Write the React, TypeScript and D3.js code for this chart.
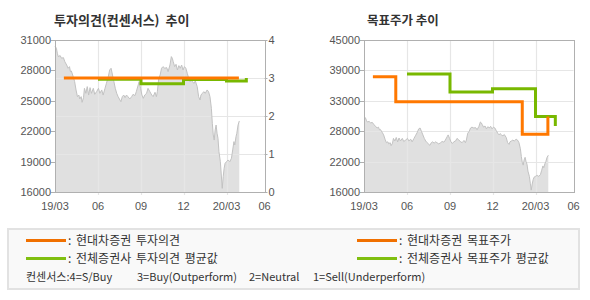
import React from 'react';
import * as d3 from 'd3';

// ---------- data ----------
const price: [string, number][] = [
  ['2019-03-01', 30400], ['2019-03-04', 30180], ['2019-03-06', 29690], ['2019-03-08', 29360],
  ['2019-03-12', 29460], ['2019-03-15', 29200], ['2019-03-19', 29260], ['2019-03-22', 28860],
  ['2019-03-26', 28530], ['2019-03-29', 28210], ['2019-04-01', 28370], ['2019-04-03', 27880],
  ['2019-04-05', 27940], ['2019-04-09', 27380], ['2019-04-12', 26890], ['2019-04-15', 26070],
  ['2019-04-18', 25410], ['2019-04-21', 25570], ['2019-04-23', 25180], ['2019-04-26', 25410],
  ['2019-04-28', 24850], ['2019-05-01', 25310], ['2019-05-03', 26230], ['2019-05-06', 25740],
  ['2019-05-09', 26400], ['2019-05-12', 25570], ['2019-05-15', 26300], ['2019-05-18', 25740],
  ['2019-05-22', 26230], ['2019-05-25', 25640], ['2019-05-29', 25900], ['2019-06-02', 26230],
  ['2019-06-05', 25740], ['2019-06-09', 26070], ['2019-06-12', 25570], ['2019-06-16', 26230],
  ['2019-06-19', 26720], ['2019-06-23', 27380], ['2019-06-26', 28040], ['2019-06-29', 28210],
  ['2019-07-02', 27550], ['2019-07-05', 26890], ['2019-07-08', 26230], ['2019-07-11', 25740],
  ['2019-07-14', 25410], ['2019-07-18', 25080], ['2019-07-20', 24910], ['2019-07-23', 25410],
  ['2019-07-26', 25570], ['2019-07-29', 25310], ['2019-08-01', 25570], ['2019-08-04', 25410],
  ['2019-08-08', 25180], ['2019-08-12', 25410], ['2019-08-15', 25640], ['2019-08-19', 25510],
  ['2019-08-22', 25900], ['2019-08-26', 26560], ['2019-08-28', 26890], ['2019-08-31', 26230],
  ['2019-09-03', 25570], ['2019-09-06', 25250], ['2019-09-09', 25570], ['2019-09-13', 25740],
  ['2019-09-16', 26230], ['2019-09-20', 25900], ['2019-09-24', 25570], ['2019-09-27', 25410],
  ['2019-10-01', 25840], ['2019-10-04', 25410], ['2019-10-06', 25900], ['2019-10-09', 27220],
  ['2019-10-12', 27550], ['2019-10-15', 28210], ['2019-10-18', 28370], ['2019-10-22', 28210],
  ['2019-10-26', 28280], ['2019-10-29', 27880], ['2019-11-02', 28530], ['2019-11-05', 29360],
  ['2019-11-07', 29200], ['2019-11-09', 28860], ['2019-11-12', 28370], ['2019-11-15', 28600],
  ['2019-11-18', 28040], ['2019-11-21', 28470], ['2019-11-24', 28210], ['2019-11-27', 28530],
  ['2019-11-30', 28040], ['2019-12-03', 28370], ['2019-12-06', 28210], ['2019-12-09', 27710],
  ['2019-12-12', 27220], ['2019-12-15', 26890], ['2019-12-17', 27150], ['2019-12-20', 26890],
  ['2019-12-23', 26720], ['2019-12-26', 26960], ['2019-12-30', 26400], ['2020-01-02', 25410],
  ['2020-01-05', 25080], ['2020-01-07', 25570], ['2020-01-10', 25740], ['2020-01-13', 25900],
  ['2020-01-16', 25740], ['2020-01-20', 26070], ['2020-01-23', 25900], ['2020-01-26', 25410],
  ['2020-01-29', 24260], ['2020-01-31', 22780], ['2020-02-02', 21630], ['2020-02-04', 21130],
  ['2020-02-06', 22120], ['2020-02-08', 22610], ['2020-02-10', 21790], ['2020-02-12', 21300],
  ['2020-02-14', 19980], ['2020-02-17', 18990], ['2020-02-19', 17680], ['2020-02-21', 16360],
  ['2020-02-23', 17510], ['2020-02-25', 18340], ['2020-02-27', 18830], ['2020-03-01', 18990],
  ['2020-03-05', 19160], ['2020-03-09', 18990], ['2020-03-13', 19330], ['2020-03-16', 20150],
  ['2020-03-19', 20970], ['2020-03-21', 20640], ['2020-03-24', 21460], ['2020-03-26', 21790],
  ['2020-03-29', 22610], ['2020-04-01', 23010],
];

const opinionOwnDates = ['2019-03-20', '2020-03-31'];
const opinionOwnValues = [3, 3];
const opinionAvgDates = ['2019-06-01', '2019-09-01', '2019-12-01', '2020-03-01', '2020-04-18'];
const opinionAvgValues = [2.97, 2.85, 2.96, 2.92, 3.0];

const targetOwnDates = ['2019-03-20', '2019-05-08', '2020-02-02', '2020-03-31'];
const targetOwnValues = [38000, 33200, 27000, 30400];
const targetAvgDates = ['2019-06-01', '2019-09-01', '2019-12-01', '2020-03-01', '2020-04-18'];
const targetAvgValues = [38500, 35100, 35700, 30400, 28600];

const xTickDates = ['2019-03-01', '2019-06-01', '2019-09-01', '2019-12-01', '2020-03-01', '2020-06-01'];
const xTickLabels = ['19/03', '06', '09', '12', '20/03', '06'];
const priceTicks = [16000, 19000, 22000, 25000, 28000, 31000];
const opinionTicks = [0, 1, 2, 3, 4];
const targetTickLabels = ['16000', '22000', '28000', '33000', '39000', '45000'];

const legendItems = [
  { label: ': 현대차증권 투자의견', color: '#f07000' },
  { label: ': 전체증권사 투자의견 평균값', color: '#80bf10' },
  { label: ': 현대차증권 목표주가', color: '#f07000' },
  { label: ': 전체증권사 목표주가 평균값', color: '#80bf10' },
];
const consensusNotes = ['컨센서스:4=S/Buy', '3=Buy(Outperform)', '2=Neutral', '1=Sell(Underperform)'];

// ---------- styling ----------
const ORANGE = '#ff7800';
const GREEN = '#78b800';
const GRID = '#e6e6e6';
const AXIS = '#b0b0b0';
const TXT = '#555';
const KFONT = '"Noto Sans CJK KR", "Noto Sans", sans-serif';
const NFONT = '"Liberation Sans", Arial, sans-serif';

const parse = d3.timeParse('%Y-%m-%d');
const tickDates = xTickDates.map((d) => parse(d) as Date);
const LEFT_X = [55, 98, 141, 183.5, 226.5, 264.5];
const TOP = 40;
const BOTTOM = 192;

function Panel({ offset, kind }: { offset: number; kind: 'opinion' | 'target' }) {
  const x = d3.scaleTime().domain(tickDates).range(LEFT_X.map((v) => v + offset));
  const x0 = LEFT_X[0] + offset;
  const x1 = LEFT_X[LEFT_X.length - 1] + offset;

  const yPrice =
    kind === 'opinion'
      ? d3.scaleLinear().domain([16000, 31000]).range([BOTTOM, TOP])
      : d3.scaleLinear().domain([16000, 45000]).range([BOTTOM, TOP]);
  const yOp = d3.scaleLinear().domain([0, 4]).range([BOTTOM, TOP]);

  const pts = price.map(([d, v]) => ({ d: parse(d) as Date, v }));
  const area = d3
    .area<{ d: Date; v: number }>()
    .x((p) => x(p.d))
    .y0(BOTTOM)
    .y1((p) => yPrice(p.v));
  const line = d3
    .line<{ d: Date; v: number }>()
    .x((p) => x(p.d))
    .y((p) => yPrice(p.v));

  const step = (dates: string[], vals: number[], y: d3.ScaleLinear<number, number>) =>
    d3
      .line<number>()
      .curve(d3.curveStepAfter)
      .x((i) => x(parse(dates[i]) as Date))
      .y((i) => y(vals[i]))(vals.map((_, i) => i)) || '';

  const targetTickVals = targetTickLabels.map((_, i) => 16000 + (i * (45000 - 16000)) / (targetTickLabels.length - 1));

  const hGrid =
    kind === 'opinion'
      ? opinionTicks.filter((t) => t > 0 && t < 4).map((t) => Math.round(yOp(t)))
      : targetTickVals.slice(1, -1).map((t) => Math.round(yPrice(t)));

  return (
    <g>
      <path d={area(pts) || ''} fill="#e0e0e0" />
      {tickDates.slice(1, -1).map((d, i) => (
        <line key={'vg' + i} x1={Math.round(x(d)) + 0.5} x2={Math.round(x(d)) + 0.5} y1={TOP} y2={BOTTOM + 3} stroke={GRID} strokeWidth={1.2} />
      ))}
      {hGrid.map((y, i) => (
        <line key={'hg' + i} x1={x0} x2={x1} y1={y + 0.5} y2={y + 0.5} stroke={GRID} strokeWidth={1.2} />
      ))}
      <path d={line(pts) || ''} fill="none" stroke="#c2c2c2" strokeWidth={1} />
      <rect x={Math.round(x0) + 0.5} y={TOP + 0.5} width={Math.round(x1) - Math.round(x0)} height={BOTTOM - TOP} fill="none" stroke={AXIS} strokeWidth={1} />
      {(kind === 'opinion' ? priceTicks : targetTickVals).map((t, i) => {
        const y = Math.round(yPrice(t)) + 0.5;
        return (
          <g key={'ly' + i}>
            <line x1={x0 - 4} x2={x0} y1={y} y2={y} stroke={AXIS} />
            <text x={x0 - 4} y={y} dy="0.35em" textAnchor="end" fontFamily={NFONT} fontSize={11} fill={TXT}>
              {kind === 'opinion' ? String(t) : targetTickLabels[i]}
            </text>
          </g>
        );
      })}
      {kind === 'opinion' &&
        opinionTicks.map((t) => {
          const y = Math.round(yOp(t)) + 0.5;
          return (
            <g key={'ry' + t}>
              <line x1={x1} x2={x1 + 3} y1={y} y2={y} stroke={AXIS} />
              <text x={x1 + 4} y={y} dy="0.35em" fontFamily={NFONT} fontSize={11} fill={TXT}>
                {t}
              </text>
            </g>
          );
        })}
      {tickDates.map((d, i) => (
        <text key={'xt' + i} x={x(d)} y={BOTTOM + 18} textAnchor="middle" fontFamily={NFONT} fontSize={11} fill={TXT}>
          {xTickLabels[i]}
        </text>
      ))}
      {kind === 'opinion' ? (
        <>
          <path d={step(opinionAvgDates, opinionAvgValues, yOp)} fill="none" stroke={GREEN} strokeWidth={3} />
          <path d={step(opinionOwnDates, opinionOwnValues, yOp)} fill="none" stroke={ORANGE} strokeWidth={3} />
        </>
      ) : (
        <>
          <path d={step(targetAvgDates, targetAvgValues, yPrice)} fill="none" stroke={GREEN} strokeWidth={3} />
          <path d={step(targetOwnDates, targetOwnValues, yPrice)} fill="none" stroke={ORANGE} strokeWidth={3} />
        </>
      )}
    </g>
  );
}

export default function App() {
  const noteX = [26, 137, 249, 313];
  const legendPos = [
    { x: 26, y: 240.5 },
    { x: 26, y: 258.5 },
    { x: 357, y: 240.5 },
    { x: 357, y: 258.5 },
  ];
  return (
    <svg width={590} height={300} style={{ position: 'absolute', left: 0, top: 0, background: '#fff' }}>
      <text x={54} y={25} fontFamily={KFONT} fontWeight="bold" fontSize={13} fill="#333" wordSpacing={3}>
        투자의견(컨센서스) 추이
      </text>
      <text x={367} y={25} fontFamily={KFONT} fontWeight="bold" fontSize={12.5} fill="#333">
        목표주가 추이
      </text>
      <Panel offset={0} kind="opinion" />
      <Panel offset={309} kind="target" />

      <rect x={8} y={229} width={571} height={60} fill="#f9f9f9" stroke="#e2e2e2" strokeWidth={2} />
      {legendItems.map((it, i) => (
        <g key={'lg' + i}>
          <line x1={legendPos[i].x} x2={legendPos[i].x + 40} y1={legendPos[i].y} y2={legendPos[i].y} stroke={it.color} strokeWidth={3} />
          <text x={legendPos[i].x + 42} y={legendPos[i].y + 4.5} fontFamily={KFONT} fontSize={12} fill="#333" wordSpacing={2}>
            {it.label}
          </text>
        </g>
      ))}
      {consensusNotes.map((n, i) => (
        <text key={'cn' + i} x={noteX[i]} y={281} fontFamily={KFONT} fontSize={11} fill="#333">
          {n}
        </text>
      ))}
    </svg>
  );
}
